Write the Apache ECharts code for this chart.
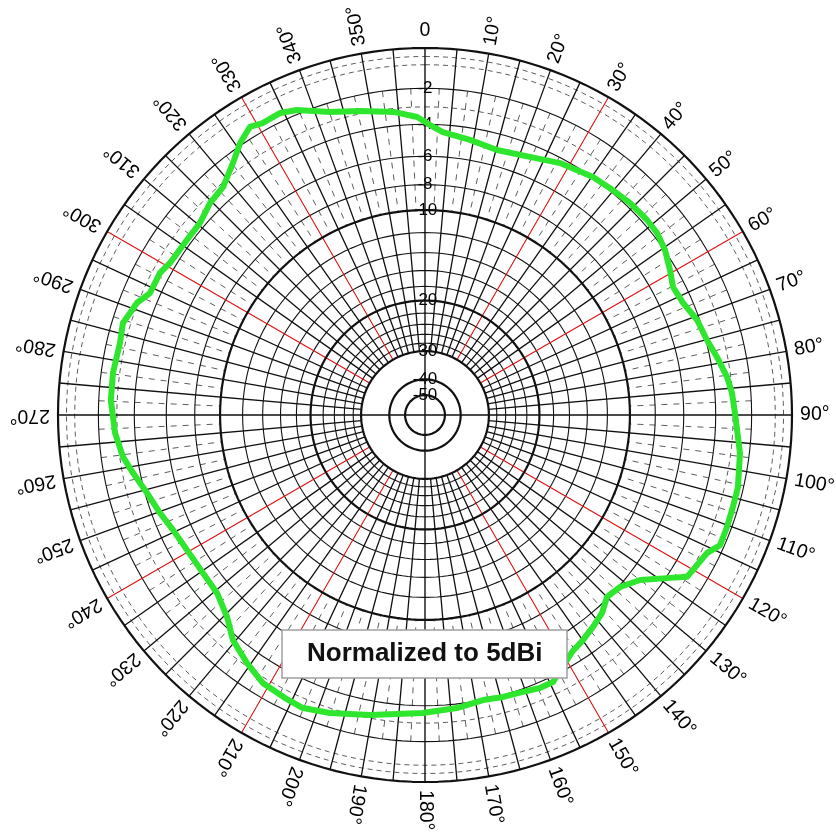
<!DOCTYPE html>
<html>
<head>
<meta charset="utf-8">
<script src="https://cdn.jsdelivr.net/npm/echarts/dist/echarts.min.js"></script>
<style>html,body{margin:0;padding:0;background:#fff;}#chart{width:836px;height:833px;}</style>
</head>
<body>
<div id="chart"></div>
<script>
// ---- data ----
const traceAngle = [1.0, 3.6, 9.3, 15.2, 22.1, 28.2, 35.2, 39.2, 44.0, 48.7, 51.9, 55.5, 59.4, 62.7, 66.5, 70.7, 75.1, 78.8, 82.8, 85.9, 89.6, 96.9, 103.0, 106.6, 110.4, 113.8, 116.1, 120.0, 121.7, 124.0, 127.5, 131.4, 135.0, 138.2, 141.6, 144.9, 148.2, 154.4, 157.2, 160.5, 164.5, 168.5, 173.8, 180.4, 190.4, 197.7, 202.6, 206.3, 211.2, 215.7, 220.5, 224.4, 229.4, 234.6, 240.4, 245.5, 249.7, 254.3, 258.8, 262.1, 266.7, 272.7, 277.7, 283.3, 286.9, 291.3, 293.9, 298.2, 300.8, 306.3, 310.5, 314.6, 318.5, 322.7, 325.8, 328.7, 330.9, 334.4, 337.2, 342.6, 347.9, 354.3, 358.5];
const traceDb = [-4.04, -4.43, -4.72, -4.98, -4.73, -4.29, -3.96, -3.88, -3.75, -3.72, -3.75, -3.97, -4.36, -4.70, -4.56, -4.15, -3.94, -3.59, -3.21, -3.02, -2.90, -2.50, -2.29, -2.28, -2.24, -2.22, -2.68, -2.92, -3.01, -3.94, -5.20, -5.91, -6.09, -5.55, -5.24, -4.96, -4.71, -3.68, -3.68, -3.82, -3.89, -3.99, -3.76, -3.57, -3.18, -2.74, -2.49, -2.58, -2.72, -3.16, -3.70, -4.47, -5.03, -5.11, -5.04, -4.83, -4.49, -4.12, -3.59, -3.18, -2.87, -2.65, -2.63, -2.71, -2.58, -2.95, -3.41, -3.42, -3.64, -3.72, -3.70, -3.35, -3.20, -2.52, -1.88, -1.46, -1.62, -1.57, -1.78, -2.49, -2.85, -3.21, -3.57];

const angleTicks = [0,10,20,30,40,50,60,70,80,90,100,110,120,130,140,150,160,170,180,190,200,210,220,230,240,250,260,270,280,290,300,310,320,330,340,350];
const dbLabels = [-2,-4,-6,-8,-10,-20,-30,-40,-50];
const heavyCircleDb = [0,-10,-20,-30,-40,-50];
const thinCircleDb = [-2,-4,-6,-8,-12,-14,-16,-18,-22,-24,-26,-28];
const dashedCircleDb = [-0.4,-0.8,-3];
const redSpokes = [30,60,120,150,210,240,300,330];
const axisSpokes = [0,90,180,270];
const spokeStep = 5;
const spokeInnerDb = -30;
const midTickDb = [-2,-10];
const titleText = 'Normalized to 5dBi';

// ARRL log-periodic radial scale: 0.89 per 2 dB
function rad(db){ return Math.pow(0.89, -db/2); }
const GAP = ['-','-'];

function circleData(dbs){
  const d=[];
  dbs.forEach(db=>{ const r=rad(db); for(let a=0;a<=360;a+=2) d.push([r,a]); d.push(GAP); });
  return d;
}
function spokeData(angles, r0, r1){
  const d=[];
  angles.forEach(a=>{ d.push([r0,a]); d.push([r1,a]); d.push(GAP); });
  return d;
}
const blackSpokes=[], midSpokes=[];
for(let a=0;a<360;a+=spokeStep){ if(redSpokes.indexOf(a)<0 && axisSpokes.indexOf(a)<0) blackSpokes.push(a); midSpokes.push(a+spokeStep/2); }

const trace = traceAngle.map((a,i)=>[rad(traceDb[i]), a]);
trace.push(trace[0]);

const FONT='Liberation Sans';
const angleLabelData = angleTicks.map(a=>{
  if(a===0){
    return {value:[1.046,a], label:{show:true, formatter:'0', rotate:0, align:'center', verticalAlign:'middle', position:'inside'}};
  }
  return {value:[1.022,a], label:{show:true, formatter:a+'°', rotate:90-a, align:'left', verticalAlign:'middle', position:'inside'}};
});
const dbLabelData = dbLabels.map(db=>({value:[rad(db),0], label:{show:true, formatter:String(db)}}));

const lineBase = {type:'line', coordinateSystem:'polar', symbol:'none', silent:true, connectNulls:false, animation:false};

const option = {
  animation:false,
  backgroundColor:'#fff',
  title:{
    text:titleText, left:282, top:630,
    padding:[11,25], backgroundColor:'#fff', borderColor:'#a0a0a0', borderWidth:1.5,
    textStyle:{fontFamily:FONT, fontSize:26, fontWeight:'bold', color:'#111'}
  },
  polar:{center:[425,415], radius:367*1.1},
  angleAxis:{type:'value', min:0, max:360, startAngle:90, clockwise:true, show:false},
  radiusAxis:{type:'value', min:0, max:1.1, show:false},
  series:[
    Object.assign({}, lineBase, {name:'dashedCircles', data:circleData(dashedCircleDb), lineStyle:{color:'#333', width:0.8, type:[5,4]}}),
    Object.assign({}, lineBase, {name:'midTicks', data:spokeData(midSpokes, rad(midTickDb[0]), rad(midTickDb[1])), lineStyle:{color:'#333', width:0.8, type:[6,6]}}),
    Object.assign({}, lineBase, {name:'thinCircles', data:circleData(thinCircleDb), lineStyle:{color:'#111', width:1.1}}),
    Object.assign({}, lineBase, {name:'spokes', data:spokeData(blackSpokes, rad(spokeInnerDb), 1), lineStyle:{color:'#111', width:1.3}}),
    Object.assign({}, lineBase, {name:'redSpokes', data:spokeData(redSpokes, rad(spokeInnerDb), 1), lineStyle:{color:'#e01010', width:1.1}}),
    Object.assign({}, lineBase, {name:'axes', data:spokeData(axisSpokes, 0, 1), lineStyle:{color:'#111', width:1.4}}),
    Object.assign({}, lineBase, {name:'heavyCircles', data:circleData(heavyCircleDb), lineStyle:{color:'#111', width:2.2}}),
    {type:'scatter', coordinateSystem:'polar', symbolSize:0, silent:true, animation:false, data:dbLabelData,
      itemStyle:{opacity:1},
      label:{show:true, position:'inside', align:'center', verticalAlign:'middle', fontFamily:FONT, fontSize:17, color:'#000'}},
    Object.assign({}, lineBase, {name:'pattern', data:trace, z:5, lineStyle:{color:'#2fe62f', width:6, join:'round', cap:'round'}}),
    {type:'scatter', coordinateSystem:'polar', symbolSize:0, silent:true, animation:false, data:angleLabelData,
      itemStyle:{opacity:1},
      label:{show:true, fontFamily:FONT, fontSize:19.5, color:'#000'}}
  ]
};
const chart = echarts.init(document.getElementById('chart'), null, {renderer:'canvas'});
chart.setOption(option);
</script>
</body>
</html>
